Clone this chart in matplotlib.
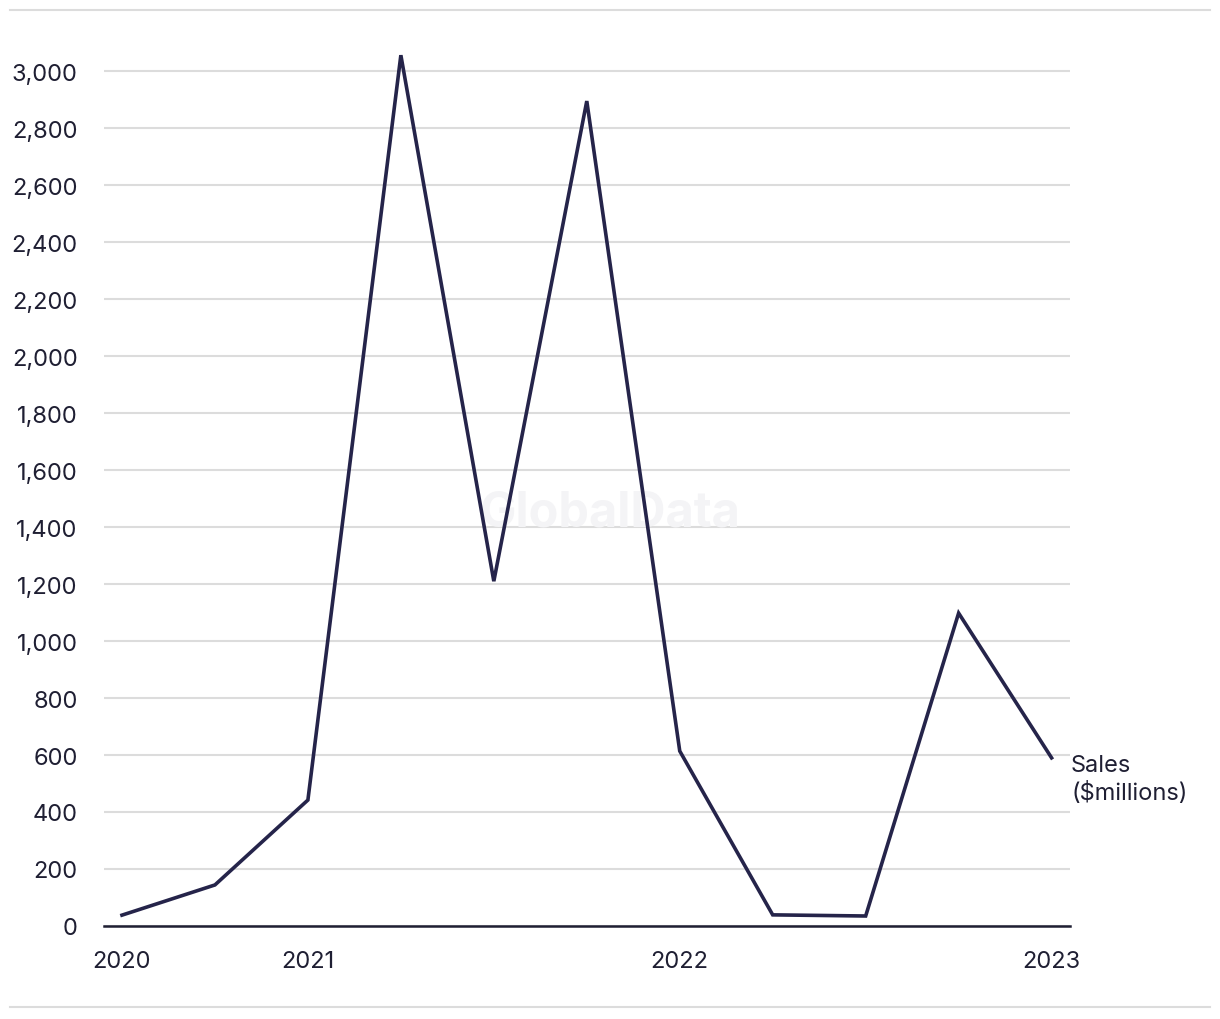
import matplotlib.pyplot as plt
from matplotlib.lines import Line2D
from matplotlib.ticker import FuncFormatter

# quarterly sales, $ millions
sales = [38, 144, 442, 3056, 1210, 2895, 614, 39, 35, 1098, 590]
year_tick_index = [0, 2, 6, 10]
year_tick_labels = ["2020", "2021", "2022", "2023"]
y_ticks = list(range(0, 3001, 200))

LINE_COLOR = "#25244a"
TEXT_COLOR = "#1f1f33"
GRID_COLOR = "#dcdcdc"
FONT_SIZE = 17

plt.rcParams["font.family"] = ["Inter", "DejaVu Sans"]

fig = plt.figure(figsize=(12.2, 10.2), dpi=100)
ax = fig.add_axes([0.0852, 0.0912, 0.792, 0.866])

x = list(range(len(sales)))
ax.plot(x, sales, color=LINE_COLOR, linewidth=2.6, clip_on=False,
        solid_joinstyle="miter", zorder=3)

ax.set_xlim(-0.194, 10.2)
ax.set_ylim(0, 3100)

ax.set_yticks(y_ticks)
ax.yaxis.set_major_formatter(FuncFormatter(lambda v, _: f"{int(v):,}"))
ax.set_xticks(year_tick_index)
ax.set_xticklabels(year_tick_labels)

ax.tick_params(axis="both", length=0, labelsize=FONT_SIZE, colors=TEXT_COLOR)
ax.tick_params(axis="y", pad=19)
ax.tick_params(axis="x", pad=17)

ax.grid(axis="y", color=GRID_COLOR, linewidth=1.5)
ax.set_axisbelow(True)
for side in ["top", "right", "left"]:
    ax.spines[side].set_visible(False)
ax.spines["bottom"].set_color(TEXT_COLOR)
ax.spines["bottom"].set_linewidth(1.8)
ax.spines["bottom"].set_zorder(4)

# series label next to last point
ax.annotate("Sales\n($millions)", xy=(x[-1], sales[-1]), xytext=(14, 3),
            textcoords="offset points", ha="left", va="top",
            fontsize=FONT_SIZE, color=TEXT_COLOR, linespacing=1.3,
            annotation_clip=False)

# watermark
ax.text(0.5, 0.497, "GlobalData", transform=fig.transFigure, ha="center",
        va="center", fontsize=35, fontweight="bold", color="#f4f4f6",
        zorder=1)

# top and bottom rules
for y in [1 - 11 / 1020, 1 - 1008 / 1020]:
    fig.add_artist(Line2D([10 / 1220, 1210 / 1220], [y, y],
                          color=GRID_COLOR, linewidth=1.5))

fig.savefig("out.png", dpi=100)
plt.close(fig)
